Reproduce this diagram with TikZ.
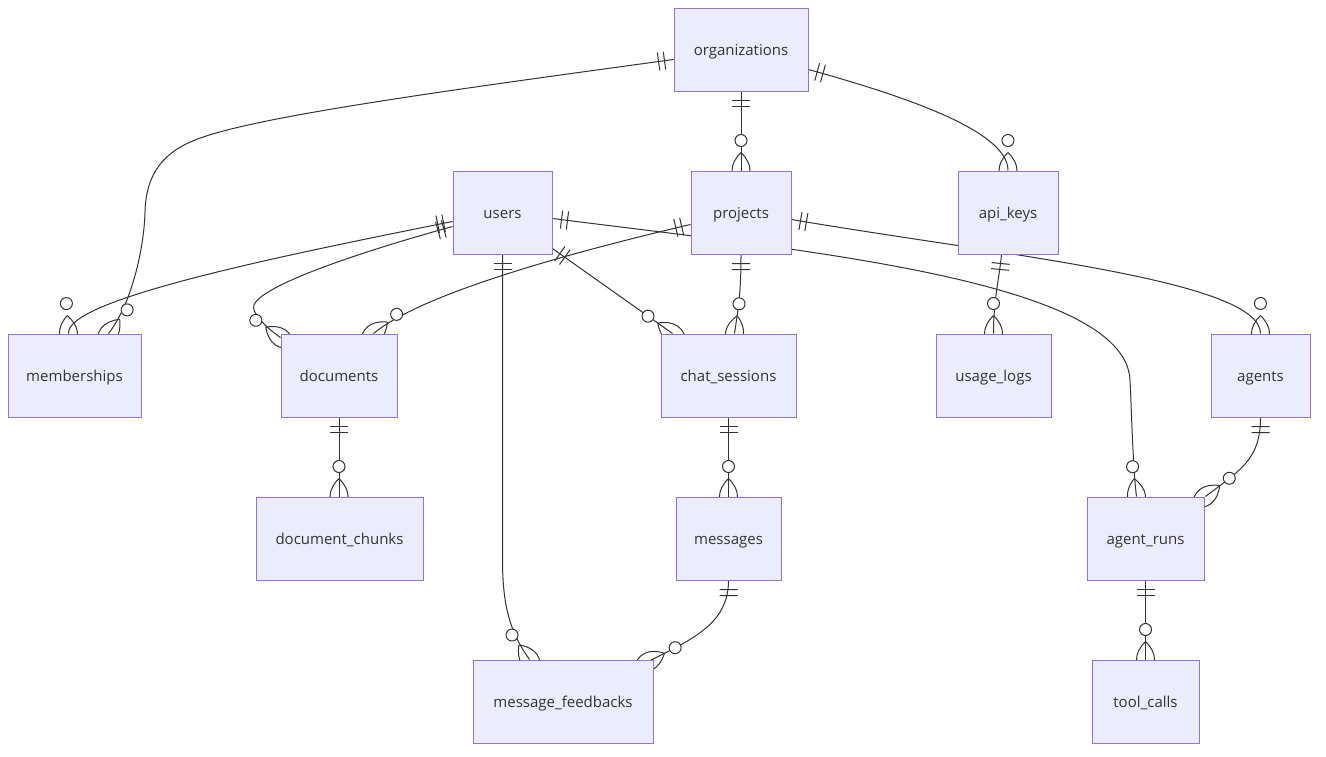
\documentclass[tikz,border=0pt]{standalone}
\usepackage{fontspec}
\setmainfont{Open Sans}
\usetikzlibrary{decorations.markings,backgrounds,calc}
\definecolor{nodefill}{HTML}{ECECFF}
\definecolor{nodeline}{HTML}{9370DB}
\definecolor{edgecol}{HTML}{333333}
\definecolor{textcol}{HTML}{333333}
\tikzset{
  entity/.style={draw=nodeline, fill=nodefill, line width=1pt, minimum height=83pt,
    inner sep=0pt, text height=12pt, text depth=0pt, text=textcol, font=\fontsize{15}{18}\selectfont},
  rel/.style={draw=edgecol, line width=1pt},
  onestart/.style={postaction={decorate,decoration={markings,mark=at position 0.0001 with
    {\draw[edgecol,line width=1pt] (9pt,-9pt)--(9pt,9pt) (15pt,-9pt)--(15pt,9pt);}}}},
  manyend/.style={postaction={decorate,decoration={markings,mark=at position 0.9999 with
    {\draw[edgecol,line width=1pt,fill=white] (-30pt,0pt) circle[radius=6pt];
     \draw[edgecol,line width=1pt] (-18pt,0pt) .. controls (-6pt,12pt) and (6pt,12pt) .. (18pt,0pt)
        .. controls (6pt,-12pt) and (-6pt,-12pt) .. (-18pt,0pt);}}}},
}
\begin{document}
\begin{tikzpicture}[x=1pt,y=-1pt]
\useasboundingbox (0,0) rectangle (1326,756);
% entities
\node[entity, minimum width=134pt] (org) at (741,49.5) {organizations};
\node[entity, minimum width=99pt] (users) at (502.5,212.5) {users};
\node[entity, minimum width=100pt] (proj) at (741,212.5) {projects};
\node[entity, minimum width=100pt] (api) at (1008,212.5) {api\_keys};
\node[entity, minimum width=133pt] (memb) at (74.5,375.5) {memberships};
\node[entity, minimum width=116pt] (docs) at (339,375.5) {documents};
\node[entity, minimum width=135pt] (chat) at (728.5,375.5) {chat\_sessions};
\node[entity, minimum width=115pt] (usage) at (993.5,375.5) {usage\_logs};
\node[entity, minimum width=99pt] (agents) at (1260.5,375.5) {agents};
\node[entity, minimum width=167pt] (chunks) at (339.5,538.5) {document\_chunks};
\node[entity, minimum width=105pt] (msgs) at (728.5,538.5) {messages};
\node[entity, minimum width=117pt] (runs) at (1145.5,538.5) {agent\_runs};
\node[entity, minimum width=180pt] (fb) at (563,701.5) {message\_feedbacks};
\node[entity, minimum width=107pt] (tools) at (1145.5,701.5) {tool\_calls};
\begin{pgfonlayer}{background}
\fill[white] (0,0) rectangle (1326,756);
% organizations -> memberships
\draw[rel,onestart,manyend] ($(org.north west)+(0,52)$) .. controls (420,94) and (250,118) .. (195,140)
   .. controls (165,152) and (146,172) .. (145,212)
   .. controls (144,250) and (131,305) .. ($(memb.north west)+(101,0)$);
% organizations -> projects
\draw[rel,onestart,manyend] (org.south) -- (proj.north);
% organizations -> api_keys
\draw[rel,onestart,manyend] ($(org.north east)+(0,62)$) .. controls (900,95) and (1008,130) .. (api.north);
% users -> memberships
\draw[rel,onestart,manyend] ($(users.north west)+(0,51)$) .. controls (270,258) and (66,300) .. ($(memb.north west)+(61,0)$);
% users -> documents
\draw[rel,onestart,manyend] ($(users.north west)+(0,56)$) .. controls (360,252) and (262,285) .. (254,305)
   .. controls (251,312) and (264,326) .. ($(docs.north west)+(0,4)$);
% projects -> documents
\draw[rel,onestart,manyend] ($(proj.north west)+(0,54)$) .. controls (560,255) and (420,295) .. ($(docs.north west)+(93,0)$);
% users -> chat_sessions
\draw[rel,onestart,manyend] ($(users.north east)+(0,78)$) -- ($(chat.north west)+(12,0)$);
% projects -> chat_sessions
\draw[rel,onestart,manyend] (proj.south) .. controls (741,290) and (739,304) .. ($(chat.north west)+(74,0)$);
% users -> agent_runs
\draw[rel,onestart,manyend] ($(users.north east)+(0,48)$) .. controls (800,250) and (1125,280) .. (1130,380)
   .. controls (1131.5,410) and (1133,470) .. ($(runs.north west)+(50,0)$);
% projects -> agents
\draw[rel,onestart,manyend] ($(proj.north east)+(0,49)$) .. controls (1000,255) and (1260.5,280) .. (agents.north);
% api_keys -> usage_logs
\draw[rel,onestart,manyend] ($(api.south west)+(44,0)$) .. controls (999,280) and (993.5,300) .. (usage.north);
% users -> message_feedbacks
\draw[rel,onestart,manyend] (users.south) -- (502.5,560) .. controls (502.5,610) and (512,635) .. ($(fb.north west)+(57,0)$);
% documents -> document_chunks
\draw[rel,onestart,manyend] (docs.south) -- (docs.south |- chunks.north);
% chat_sessions -> messages
\draw[rel,onestart,manyend] (chat.south) -- (msgs.north);
% messages -> message_feedbacks
\draw[rel,onestart,manyend] (msgs.south) .. controls (728.5,625) and (690,640) .. ($(fb.north east)+(-5,2)$);
% agents -> agent_runs
\draw[rel,onestart,manyend] (agents.south) .. controls (1260.5,460) and (1240,470) .. ($(runs.north east)+(1,0)$);
% agent_runs -> tool_calls
\draw[rel,onestart,manyend] (runs.south) -- (tools.north);
\end{pgfonlayer}
\end{tikzpicture}
\end{document}
